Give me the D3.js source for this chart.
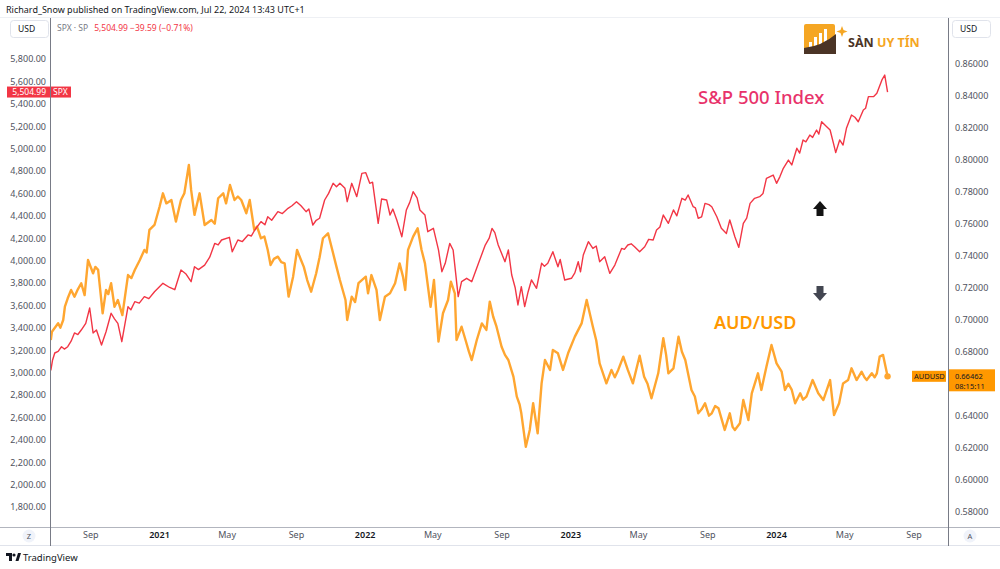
<!DOCTYPE html>
<html><head><meta charset="utf-8">
<script src="https://cdn.jsdelivr.net/npm/d3@7"></script>
<style>
html,body{margin:0;padding:0;background:#fff;}
svg{display:block;font-family:"Noto Sans","Open Sans",sans-serif;}
</style></head><body>
<svg id="c" width="1000" height="569"></svg>
<script>
// ---------- DATA ----------
const spx = [["2020-06-23",3020],["2020-06-26",3110],["2020-06-30",3175],["2020-07-06",3190],["2020-07-12",3231],["2020-07-17",3210],["2020-07-23",3231],["2020-07-29",3280],["2020-08-04",3354],["2020-08-10",3340],["2020-08-16",3380],["2020-08-24",3440],["2020-08-31",3577],["2020-09-06",3354],["2020-09-12",3380],["2020-09-21",3246],["2020-09-29",3365],["2020-10-08",3530],["2020-10-14",3480],["2020-10-20",3440],["2020-10-27",3276],["2020-11-07",3589],["2020-11-12",3560],["2020-11-19",3633],["2020-11-27",3620],["2020-12-06",3678],["2020-12-14",3660],["2020-12-24",3722],["2021-01-08",3797],["2021-01-20",3760],["2021-01-29",3740],["2021-02-09",3916],["2021-02-18",3880],["2021-02-27",3812],["2021-03-05",3945],["2021-03-12",3920],["2021-03-23",3960],["2021-04-01",4030],["2021-04-10",4154],["2021-04-16",4140],["2021-04-22",4184],["2021-05-06",4208],["2021-05-11",4079],["2021-05-21",4184],["2021-05-29",4170],["2021-06-08",4229],["2021-06-14",4220],["2021-06-20",4273],["2021-07-01",4348],["2021-07-08",4320],["2021-07-13",4392],["2021-07-20",4360],["2021-07-31",4437],["2021-08-08",4420],["2021-08-18",4467],["2021-08-25",4490],["2021-09-02",4526],["2021-09-10",4490],["2021-09-19",4437],["2021-09-24",4460],["2021-10-01",4318],["2021-10-07",4360],["2021-10-13",4378],["2021-10-22",4541],["2021-10-29",4600],["2021-11-06",4690],["2021-11-12",4660],["2021-11-18",4690],["2021-11-27",4645],["2021-12-01",4526],["2021-12-09",4690],["2021-12-18",4571],["2021-12-27",4779],["2022-01-03",4785],["2022-01-10",4690],["2022-01-15",4700],["2022-01-25",4333],["2022-01-31",4550],["2022-02-09",4541],["2022-02-15",4407],["2022-02-20",4460],["2022-02-27",4363],["2022-03-08",4213],["2022-03-16",4452],["2022-03-22",4520],["2022-03-28",4615],["2022-04-04",4560],["2022-04-09",4452],["2022-04-18",4407],["2022-04-23",4258],["2022-05-03",4288],["2022-05-12",4095],["2022-05-18",3901],["2022-05-24",3976],["2022-06-01",4154],["2022-06-07",4095],["2022-06-16",3678],["2022-06-22",3812],["2022-07-01",3842],["2022-07-10",3812],["2022-07-22",3976],["2022-08-03",4139],["2022-08-10",4200],["2022-08-15",4288],["2022-08-20",4250],["2022-08-26",4139],["2022-09-07",3990],["2022-09-13",4095],["2022-09-19",3871],["2022-09-25",3760],["2022-09-30",3604],["2022-10-06",3767],["2022-10-12",3589],["2022-10-18",3720],["2022-10-24",3827],["2022-11-02",3753],["2022-11-11",3976],["2022-11-16",3950],["2022-11-22",3976],["2022-12-01",4079],["2022-12-10",3945],["2022-12-14",4010],["2022-12-22",3827],["2023-01-03",3842],["2023-01-09",3890],["2023-01-15",3990],["2023-01-19",3900],["2023-01-24",4050],["2023-02-02",4169],["2023-02-10",4109],["2023-02-16",4130],["2023-02-22",3990],["2023-03-03",4035],["2023-03-12",3886],["2023-03-21",3960],["2023-04-02",4109],["2023-04-07",4100],["2023-04-13",4139],["2023-04-19",4150],["2023-04-25",4124],["2023-05-04",4079],["2023-05-13",4124],["2023-05-20",4190],["2023-05-28",4184],["2023-06-03",4273],["2023-06-09",4300],["2023-06-15",4407],["2023-06-24",4333],["2023-07-03",4452],["2023-07-09",4400],["2023-07-18",4556],["2023-07-24",4540],["2023-07-29",4586],["2023-08-07",4481],["2023-08-11",4470],["2023-08-16",4378],["2023-08-22",4390],["2023-08-28",4511],["2023-09-04",4500],["2023-09-09",4481],["2023-09-18",4392],["2023-09-26",4288],["2023-10-05",4243],["2023-10-11",4363],["2023-10-20",4213],["2023-10-27",4118],["2023-11-04",4333],["2023-11-10",4380],["2023-11-16",4511],["2023-11-24",4556],["2023-12-03",4571],["2023-12-09",4600],["2023-12-15",4735],["2023-12-27",4764],["2024-01-02",4690],["2024-01-08",4750],["2024-01-14",4824],["2024-01-23",4898],["2024-01-29",4854],["2024-02-07",5003],["2024-02-12",4960],["2024-02-18",5077],["2024-02-23",5060],["2024-03-01",5121],["2024-03-06",5100],["2024-03-13",5166],["2024-03-17",5130],["2024-03-22",5240],["2024-03-31",5196],["2024-04-06",5166],["2024-04-12",5047],["2024-04-16",4964],["2024-04-23",5077],["2024-04-29",5032],["2024-05-05",5181],["2024-05-14",5300],["2024-05-20",5280],["2024-05-26",5240],["2024-06-04",5345],["2024-06-08",5360],["2024-06-13",5464],["2024-06-22",5464],["2024-06-28",5494],["2024-07-07",5613],["2024-07-12",5657],["2024-07-17",5505]];

const aud = [["2020-06-23",0.6873],["2020-06-25",0.6925],["2020-07-06",0.6978],["2020-07-10",0.6950],["2020-07-15",0.6998],["2020-07-18",0.7081],["2020-07-23",0.7134],["2020-07-29",0.7186],["2020-08-04",0.7144],["2020-08-10",0.7190],["2020-08-16",0.7228],["2020-08-22",0.7154],["2020-08-28",0.7373],["2020-09-06",0.7290],["2020-09-10",0.7330],["2020-09-15",0.7311],["2020-09-23",0.7040],["2020-09-29",0.7186],["2020-10-03",0.7160],["2020-10-08",0.7228],["2020-10-14",0.7081],["2020-10-20",0.7123],["2020-10-28",0.7029],["2020-11-07",0.7279],["2020-11-13",0.7260],["2020-11-19",0.7311],["2020-11-28",0.7373],["2020-12-06",0.7436],["2020-12-10",0.7420],["2020-12-15",0.7561],["2020-12-24",0.7592],["2021-01-02",0.7706],["2021-01-08",0.7790],["2021-01-14",0.7727],["2021-01-23",0.7748],["2021-01-31",0.7613],["2021-02-09",0.7748],["2021-02-15",0.7790],["2021-02-23",0.7967],["2021-02-27",0.7811],["2021-03-05",0.7655],["2021-03-14",0.7790],["2021-03-23",0.7592],["2021-04-04",0.7623],["2021-04-10",0.7600],["2021-04-16",0.7759],["2021-04-25",0.7790],["2021-04-30",0.7727],["2021-05-07",0.7842],["2021-05-15",0.7748],["2021-05-21",0.7770],["2021-05-27",0.7748],["2021-06-05",0.7665],["2021-06-11",0.7748],["2021-06-19",0.7561],["2021-06-24",0.7582],["2021-07-01",0.7509],["2021-07-07",0.7520],["2021-07-13",0.7436],["2021-07-18",0.7342],["2021-07-24",0.7380],["2021-07-31",0.7394],["2021-08-06",0.7360],["2021-08-12",0.7352],["2021-08-19",0.7144],["2021-08-27",0.7269],["2021-09-03",0.7436],["2021-09-10",0.7373],["2021-09-15",0.7330],["2021-09-21",0.7248],["2021-09-28",0.7175],["2021-10-07",0.7290],["2021-10-13",0.7390],["2021-10-19",0.7509],["2021-10-28",0.7540],["2021-11-06",0.7415],["2021-11-12",0.7330],["2021-11-18",0.7248],["2021-11-28",0.7123],["2021-12-01",0.6998],["2021-12-09",0.7144],["2021-12-15",0.7110],["2021-12-21",0.7228],["2022-01-03",0.7269],["2022-01-07",0.7165],["2022-01-13",0.7279],["2022-01-22",0.7186],["2022-01-28",0.6998],["2022-02-06",0.7144],["2022-02-15",0.7165],["2022-02-24",0.7228],["2022-03-04",0.7352],["2022-03-10",0.7269],["2022-03-14",0.7186],["2022-03-19",0.7436],["2022-03-28",0.7519],["2022-04-05",0.7571],["2022-04-12",0.7436],["2022-04-18",0.7352],["2022-04-28",0.7081],["2022-05-04",0.7248],["2022-05-12",0.6863],["2022-05-20",0.7040],["2022-05-29",0.7123],["2022-06-03",0.7238],["2022-06-10",0.7165],["2022-06-13",0.6873],["2022-06-22",0.6956],["2022-06-29",0.6873],["2022-07-05",0.6800],["2022-07-10",0.6748],["2022-07-19",0.6873],["2022-07-28",0.6977],["2022-08-05",0.6936],["2022-08-11",0.7113],["2022-08-17",0.7020],["2022-08-23",0.6956],["2022-09-01",0.6831],["2022-09-07",0.6780],["2022-09-13",0.6748],["2022-09-22",0.6644],["2022-09-28",0.6519],["2022-10-03",0.6470],["2022-10-06",0.6415],["2022-10-14",0.6206],["2022-10-21",0.6311],["2022-10-27",0.6478],["2022-11-04",0.6290],["2022-11-11",0.6602],["2022-11-17",0.6748],["2022-11-26",0.6686],["2022-12-01",0.6811],["2022-12-10",0.6790],["2022-12-19",0.6686],["2022-12-28",0.6790],["2023-01-09",0.6894],["2023-01-21",0.6977],["2023-01-30",0.7123],["2023-02-10",0.6956],["2023-02-16",0.6870],["2023-02-22",0.6727],["2023-03-06",0.6602],["2023-03-15",0.6686],["2023-03-21",0.6640],["2023-03-27",0.6686],["2023-04-05",0.6769],["2023-04-13",0.6686],["2023-04-22",0.6602],["2023-05-04",0.6775],["2023-05-12",0.6644],["2023-05-18",0.6600],["2023-05-25",0.6509],["2023-06-06",0.6665],["2023-06-15",0.6884],["2023-06-20",0.6780],["2023-06-24",0.6665],["2023-07-03",0.6696],["2023-07-12",0.6894],["2023-07-18",0.6800],["2023-07-24",0.6748],["2023-08-04",0.6561],["2023-08-10",0.6520],["2023-08-16",0.6415],["2023-08-22",0.6440],["2023-08-28",0.6478],["2023-09-04",0.6400],["2023-09-09",0.6415],["2023-09-15",0.6460],["2023-09-21",0.6446],["2023-10-02",0.6311],["2023-10-11",0.6415],["2023-10-16",0.6330],["2023-10-20",0.6311],["2023-10-29",0.6353],["2023-11-04",0.6498],["2023-11-13",0.6373],["2023-11-19",0.6540],["2023-11-30",0.6665],["2023-12-06",0.6561],["2023-12-15",0.6706],["2023-12-24",0.6842],["2024-01-02",0.6727],["2024-01-11",0.6675],["2024-01-17",0.6561],["2024-01-23",0.6600],["2024-01-29",0.6561],["2024-02-04",0.6478],["2024-02-13",0.6540],["2024-02-18",0.6500],["2024-02-24",0.6519],["2024-03-06",0.6623],["2024-03-16",0.6540],["2024-03-25",0.6498],["2024-04-06",0.6623],["2024-04-13",0.6404],["2024-04-22",0.6478],["2024-04-29",0.6602],["2024-05-08",0.6623],["2024-05-14",0.6696],["2024-05-23",0.6623],["2024-06-01",0.6675],["2024-06-06",0.6640],["2024-06-10",0.6623],["2024-06-19",0.6665],["2024-06-24",0.6640],["2024-06-28",0.6665],["2024-07-03",0.6769],["2024-07-09",0.6780],["2024-07-17",0.6646]];

const spxTicks = d3.range(1800, 5801, 200);
const audTicks = d3.range(0, 15).map(i => 0.58 + i * 0.02);
const timeTicks = [["2020-09-01","Sep"],["2021-01-01","2021"],["2021-05-01","May"],["2021-09-01","Sep"],["2022-01-01","2022"],["2022-05-01","May"],["2022-09-01","Sep"],["2023-01-01","2023"],["2023-05-01","May"],["2023-09-01","Sep"],["2024-01-01","2024"],["2024-05-01","May"],["2024-09-01","Sep"]];
const spxLast = 5504.99, audLast = 0.66462;

// ---------- LAYOUT ----------
const W = 1000, H = 569;
const plotL = 51, plotR = 948, plotT = 18, plotB = 527;
const parse = d3.utcParse("%Y-%m-%d");
const svg = d3.select("#c");
const x = d3.scaleUtc().domain([parse("2021-01-01"), parse("2024-01-01")]).range([159, 776]);
const yS = d3.scaleLinear().domain([1800, 5800]).range([507, 59]);
const yA = d3.scaleLinear().domain([0.58, 0.86]).range([511.7, 63.7]);
const txt = "#131722", axTxt = "#50535e", red = "#f23645", orange = "#ffa630";

svg.append("rect").attr("width", W).attr("height", H).attr("fill", "#fff");

// header
svg.append("text").attr("x", 6).attr("y", 13).attr("font-size", 9).attr("fill", txt)
  .text("Richard_Snow published on TradingView.com, Jul 22, 2024 13:43 UTC+1");

// frame lines
svg.append("line").attr("x1", 0).attr("x2", W).attr("y1", plotB + 0.5).attr("y2", plotB + 0.5).attr("stroke", "#b2b5be").attr("stroke-width", 1);
svg.append("line").attr("x1", 0).attr("x2", W).attr("y1", 545.5).attr("y2", 545.5).attr("stroke", "#e0e3eb");
svg.append("line").attr("x1", 0).attr("x2", W).attr("y1", 17.5).attr("y2", 17.5).attr("stroke", "#eef0f4");
[plotL - 0.5, plotR + 0.5].forEach(xx => svg.append("line").attr("x1", xx).attr("x2", xx)
  .attr("y1", plotT).attr("y2", 546).attr("stroke", "#787b86").attr("stroke-width", 1));

// clip
svg.append("clipPath").attr("id", "clip").append("rect")
  .attr("x", plotL).attr("y", plotT).attr("width", plotR - plotL).attr("height", plotB - plotT);
const g = svg.append("g").attr("clip-path", "url(#clip)");

const lineS = d3.line().x(d => x(parse(d[0]))).y(d => yS(d[1]));
const lineA = d3.line().x(d => x(parse(d[0]))).y(d => yA(d[1]));
g.append("path").datum(aud).attr("d", lineA).attr("fill", "none").attr("stroke", orange)
  .attr("stroke-width", 2.4).attr("stroke-linejoin", "round");
g.append("path").datum(spx).attr("d", lineS).attr("fill", "none").attr("stroke", red)
  .attr("stroke-width", 1.4).attr("stroke-linejoin", "round");
const lastA = aud[aud.length - 1];
g.append("circle").attr("cx", x(parse(lastA[0]))).attr("cy", yA(lastA[1])).attr("r", 3.2).attr("fill", orange);

const ys = yS(spxLast), ya = yA(audLast);

// axes
const axL = svg.append("g").attr("transform", `translate(46,0)`)
  .call(d3.axisLeft(yS).tickValues(spxTicks).tickFormat(d3.format(",.2f")).tickSize(0).tickPadding(0));
axL.select(".domain").remove();
axL.selectAll("text").attr("font-size", 9).attr("fill", axTxt).attr("font-family", "Noto Sans");

// the price label box covers the tick labels beneath it
const audVisible = audTicks.filter(v => Math.abs(yA(v) - (ya + 3.5)) > 14);
const axR = svg.append("g").attr("transform", `translate(955,0)`)
  .call(d3.axisRight(yA).tickValues(audVisible).tickFormat(d3.format(".5f")).tickSize(0).tickPadding(0));
axR.select(".domain").remove();
axR.selectAll("text").attr("font-size", 9).attr("fill", axTxt).attr("font-family", "Noto Sans");

const axB = svg.append("g").attr("transform", `translate(0,${plotB})`)
  .call(d3.axisBottom(x).tickValues(timeTicks.map(t => parse(t[0])))
    .tickFormat((d, i) => timeTicks[i][1]).tickSize(0).tickPadding(5));
axB.select(".domain").remove();
axB.selectAll("text").attr("font-size", 9).attr("font-family", "Noto Sans")
  .attr("fill", (d, i) => /^\d/.test(timeTicks[i][1]) ? txt : axTxt)
  .attr("font-weight", (d, i) => /^\d/.test(timeTicks[i][1]) ? 600 : 400);

// USD boxes
[[10, 48], [952, 990]].forEach(([a, b]) => {
  svg.append("rect").attr("x", a + 0.5).attr("y", 20.5).attr("width", b - a).attr("height", 17).attr("rx", 3)
    .attr("fill", "#fff").attr("stroke", "#e0e3eb");
  svg.append("text").attr("x", a + 8).attr("y", 32).attr("font-size", 8.5).attr("fill", txt).text("USD");
});

// legend line
const l1 = svg.append("text").attr("x", 57).attr("y", 31).attr("font-size", 8.5).attr("fill", "#787b86").text("SPX · SP");
const l1w = l1.node().getComputedTextLength();
svg.append("text").attr("x", 57 + l1w + 6).attr("y", 31).attr("font-size", 8.5).attr("fill", red).text("5,504.99  −39.59 (−0.71%)");

// SPX price label
svg.append("rect").attr("x", 7).attr("y", ys - 5.5).attr("width", 43).attr("height", 11).attr("fill", red);
svg.append("text").attr("x", 46).attr("y", ys + 3).attr("text-anchor", "end").attr("font-size", 8.5).attr("fill", "#fff").text("5,504.99");
svg.append("rect").attr("x", 51).attr("y", ys - 5.5).attr("width", 20).attr("height", 11).attr("fill", red);
svg.append("text").attr("x", 53).attr("y", ys + 3).attr("font-size", 8.5).attr("fill", "#fff").text("SPX");

// AUDUSD price label
svg.append("rect").attr("x", 912).attr("y", ya - 5.5).attr("width", 34).attr("height", 11).attr("fill", "#ff9800");
svg.append("text").attr("x", 914).attr("y", ya + 3).attr("font-size", 7.5).attr("fill", txt).text("AUDUSD");
svg.append("rect").attr("x", 949).attr("y", ya - 7).attr("width", 46).attr("height", 22).attr("fill", "#ff9800");
svg.append("text").attr("x", 955).attr("y", ya + 2.5).attr("font-size", 7.5).attr("fill", txt).text("0.66462");
svg.append("text").attr("x", 955).attr("y", ya + 12.5).attr("font-size", 7.5).attr("fill", txt).text("08:15:11");

// Z / A buttons
[[29, "Z"], [970, "A"]].forEach(([cx, t]) => {
  svg.append("circle").attr("cx", cx).attr("cy", 536).attr("r", 6.5).attr("fill", "#f0f3fa");
  svg.append("text").attr("x", cx).attr("y", 539).attr("text-anchor", "middle").attr("font-size", 7.5).attr("fill", "#50535e").text(t);
});

// annotations
svg.append("text").attr("x", 698).attr("y", 104).attr("font-size", 18.5).attr("font-weight", 500)
  .attr("fill", "#e8336b").text("S&P 500 Index");
svg.append("text").attr("x", 714).attr("y", 329).attr("font-size", 18).attr("font-weight", 600)
  .attr("fill", "#ff9800").text("AUD/USD");

// arrows (up: tip on top; down: tip at bottom)
function arrow(cx, cy, up, col) {
  const s = up ? 1 : -1;
  const pts = [[0, -8 * s], [-7, 0], [-3.5, 0], [-3.5, 7 * s], [3.5, 7 * s], [3.5, 0], [7, 0]]
    .map(p => [cx + p[0], cy + p[1]]);
  svg.append("polygon").attr("points", pts.map(p => p.join(",")).join(" ")).attr("fill", col);
}
arrow(820, 209, true, "#131313");
arrow(820, 293, false, "#434651");

// logo
const lg = svg.append("g");
lg.append("rect").attr("x", 804).attr("y", 24).attr("width", 31).attr("height", 30).attr("rx", 2).attr("fill", "#f5a623");
[[809, 42, 3], [814, 37, 3], [819, 33, 3], [824, 29, 3]].forEach(([bx, by, bw]) =>
  lg.append("rect").attr("x", bx).attr("y", by).attr("width", bw).attr("height", 48 - by).attr("fill", "#fff"));
lg.append("path").attr("d", "M804,54 L804,48 Q822,46 836,34 L836,54 Z").attr("fill", "#4b3426");
lg.append("path").attr("d", "M842,26 L843.5,30 L847.5,31.5 L843.5,33 L842,37 L840.5,33 L836.5,31.5 L840.5,30 Z").attr("fill", "#f5a623");
const lt = lg.append("text").attr("x", 848).attr("y", 47).attr("font-size", 12.5).attr("font-weight", 700);
lt.append("tspan").attr("fill", "#4b3426").text("SÀN ");
lt.append("tspan").attr("fill", "#f5a623").text("UY TÍN");

// TradingView footer
const tv = svg.append("g").attr("fill", txt);
tv.append("path").attr("d", "M6,553 h6 v8 h-3 v-5 h-3 Z");
tv.append("circle").attr("cx", 14).attr("cy", 555).attr("r", 1.6);
tv.append("path").attr("d", "M15.5,561 L18,553 L21,553 L18.5,561 Z");
svg.append("text").attr("x", 23).attr("y", 561).attr("font-size", 9.5).attr("fill", txt).text("TradingView");
</script>
</body></html>
